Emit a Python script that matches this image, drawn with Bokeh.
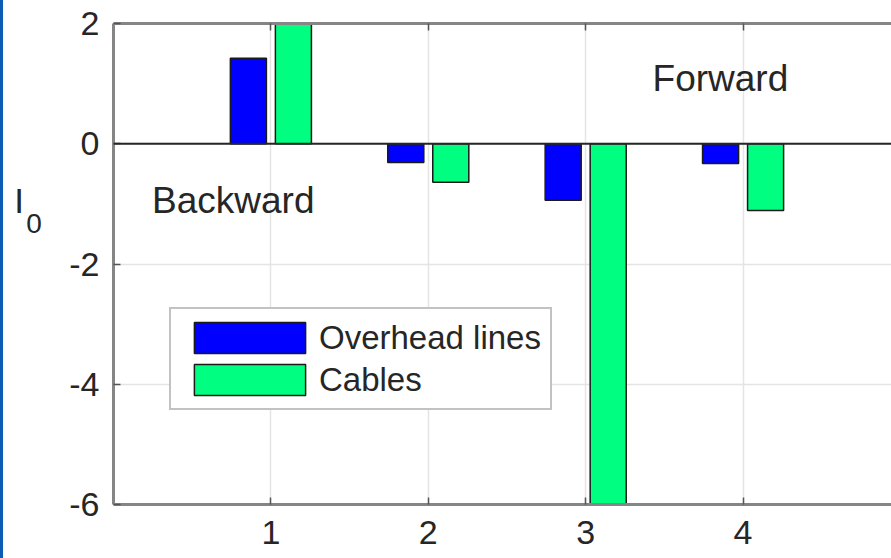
from bokeh.plotting import figure
from bokeh.layouts import row
from bokeh.models import (FixedTicker, Span, Label, LinearAxis, Legend,
                          LegendItem, ColumnDataSource, Range1d)
from bokeh.core.properties import value
from bokeh.embed import file_html
from bokeh.resources import INLINE

# Zero-sequence current per case, two line types
groups = [1, 2, 3, 4]
overhead_lines = [1.42, -0.31, -0.94, -0.33]
cables = [2.0, -0.64, -6.0, -1.11]
series_names = ["Overhead lines", "Cables"]
x_ticks = [1, 2, 3, 4]
y_ticks = [-6, -4, -2, 0, 2]
y_tick_labels = {t: str(t) for t in y_ticks}   # plain hyphen minus

FONT = "Liberation Sans"
TEXT = "#262626"
AXIS = "#858585"
BAR_W = 0.229
OFFSET = 0.143
TOP, BOTTOM = 23, 54

y_range = Range1d(-6, 2)

p = figure(width=834, height=558,
           x_range=Range1d(0, 4.943), y_range=y_range,
           output_backend="svg", toolbar_location=None,
           min_border_left=56, min_border_right=0,
           min_border_top=TOP, min_border_bottom=BOTTOM)
p.outline_line_color = None
p.background_fill_color = "white"
p.border_fill_color = "white"

# grid
p.xgrid.ticker = FixedTicker(ticks=x_ticks)
p.ygrid.ticker = FixedTicker(ticks=y_ticks)
for g in (p.xgrid, p.ygrid):
    g.grid_line_color = "#e4e4e4"
    g.grid_line_width = 1.5

# bottom / left axes with inward ticks
p.xaxis.ticker = FixedTicker(ticks=x_ticks)
p.yaxis.ticker = FixedTicker(ticks=y_ticks)
p.yaxis.major_label_overrides = y_tick_labels
for ax in (p.xaxis[0], p.yaxis[0]):
    ax.axis_line_color = AXIS
    ax.axis_line_width = 3
    ax.major_tick_in = 7
    ax.major_tick_out = 0
    ax.major_tick_line_color = "#555555"
    ax.major_tick_line_width = 1.5
    ax.minor_tick_line_color = None
    ax.major_label_text_font = FONT
    ax.major_label_text_font_size = "34px"
    ax.major_label_text_color = TEXT
p.xaxis.major_label_standoff = 16
p.yaxis.major_label_standoff = 14

# top edge of the box with its own inward ticks
top_axis = LinearAxis(ticker=FixedTicker(ticks=x_ticks),
                      major_label_overrides={t: "" for t in x_ticks},
                      major_label_text_font_size="1px",
                      major_label_standoff=0,
                      major_tick_in=7, major_tick_out=0,
                      major_tick_line_color="#555555",
                      major_tick_line_width=1.5,
                      minor_tick_line_color=None,
                      axis_line_color=AXIS, axis_line_width=3)
p.add_layout(top_axis, "above")

src = ColumnDataSource(data=dict(
    x_ol=[g - OFFSET for g in groups],
    x_cb=[g + OFFSET for g in groups],
    ol=overhead_lines,
    cb=cables,
))
r_ol = p.vbar(x="x_ol", top="ol", bottom=0, width=BAR_W, source=src,
              fill_color="#0000ff", line_color="#1a1a1a", line_width=1.5)
r_cb = p.vbar(x="x_cb", top="cb", bottom=0, width=BAR_W, source=src,
              fill_color="#00ff80", line_color="#1a1a1a", line_width=1.5)

# bar baseline
p.add_layout(Span(location=0, dimension="width",
                  line_color="#262626", line_width=2))

legend = Legend(items=[LegendItem(label=series_names[0], renderers=[r_ol]),
                       LegendItem(label=series_names[1], renderers=[r_cb])],
                location=(56, 94), glyph_width=139, glyph_height=39,
                label_standoff=0, spacing=3, padding=9, margin=0,
                label_text_font=FONT, label_text_font_size="33px",
                label_text_color=TEXT,
                border_line_color=AXIS, border_line_width=2.5,
                background_fill_color="white", background_fill_alpha=1)
p.add_layout(legend, "center")

for txt, x, y in (("Backward", 0.245, -0.94), ("Forward", 3.425, 1.09)):
    p.add_layout(Label(x=x, y=y, text=txt, text_font=FONT,
                       text_font_size="37px", text_color=TEXT,
                       text_baseline="alphabetic"))

# narrow strip on the left carrying the y-axis title I with subscript 0
lab = figure(width=57, height=558, x_range=Range1d(0, 57), y_range=y_range,
             output_backend="svg", toolbar_location=None,
             x_axis_location=None, y_axis_location=None,
             min_border_left=0, min_border_right=0,
             min_border_top=TOP, min_border_bottom=BOTTOM)
lab.outline_line_color = None
lab.xgrid.visible = False
lab.ygrid.visible = False
lab.background_fill_color = "white"
lab.border_fill_color = "white"
lab.styles = {"border-left": "3px solid #0c5bb4"}
lab.text(x=[10.7], y=[-0.95], text=["I"], text_font=value(FONT),
         text_font_size="35px", text_color=TEXT, text_baseline="alphabetic")
lab.text(x=[22.8], y=[-1.32], text=["0"], text_font=value(FONT),
         text_font_size="28px", text_color=TEXT, text_baseline="alphabetic")

layout = row(lab, p, spacing=0)

open("out.html", "w").write(file_html(layout, INLINE))
